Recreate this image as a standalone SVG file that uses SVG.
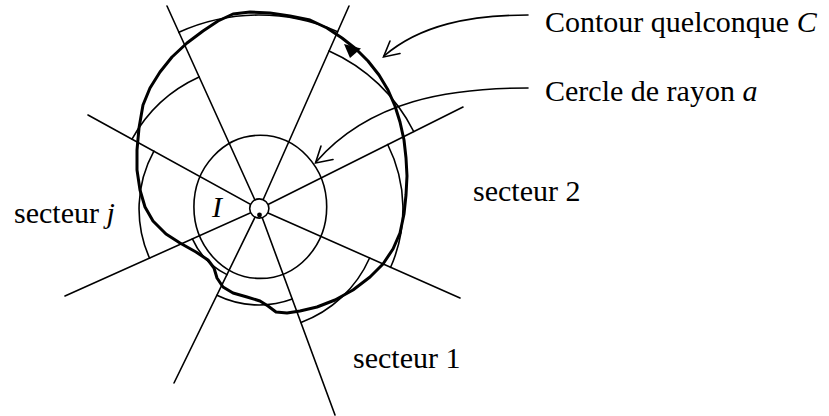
<svg xmlns="http://www.w3.org/2000/svg" width="829" height="416" viewBox="0 0 829 416">
<style>
.thin{fill:none;stroke:#000;stroke-width:1.6;stroke-linecap:round}
.thick{fill:none;stroke:#000;stroke-width:3;stroke-linejoin:round}
text{font-family:"Liberation Serif","Times New Roman",serif;font-size:30px;fill:#000}
.it{font-style:italic}
</style>
<rect width="829" height="416" fill="#fff"/>
<g id="rays">
<line class="thin" x1="259" y1="209" x2="167" y2="6"/>
<line class="thin" x1="259" y1="209" x2="349" y2="6"/>
<line class="thin" x1="259" y1="209" x2="463" y2="107"/>
<line class="thin" x1="259" y1="209" x2="460" y2="298"/>
<line class="thin" x1="259" y1="209" x2="335" y2="415"/>
<line class="thin" x1="259" y1="209" x2="174" y2="383"/>
<line class="thin" x1="259" y1="209" x2="65" y2="296"/>
<line class="thin" x1="259" y1="209" x2="88" y2="115"/>
</g>
<g id="sector-arcs">
<path class="thin" d="M178.9,32.3 A194,194 0 0 1 337.6,31.7"/>
<path class="thin" d="M329.1,50.9 A173,173 0 0 1 413.7,131.5"/>
<path class="thin" d="M387.7,144.5 A144,144 0 0 1 390.6,267.3"/>
<path class="thin" d="M369.6,258 A121,121 0 0 1 301,322.5"/>
<path class="thin" d="M292.3,299 A96,96 0 0 1 216.9,295.3"/>
<path class="thin" d="M227,274.6 A73,73 0 0 1 192.4,238.9"/>
<path class="thin" d="M149.6,258.2 A120,120 0 0 1 153.9,151.2"/>
<path class="thin" d="M132,139.1 A145,145 0 0 1 199.1,76.9"/>
</g>
<g id="circle-a">
<ellipse class="thin" cx="260.3" cy="206.8" rx="66.4" ry="71.6"/>
</g>
<g id="contour-C">
<path class="thick" d="M250,12 L270,13 L290,16 L310,20 L327,28 L342,38 L356,49 L368,61 L379,75 L388,90 L395,106 L400,122 L404,140 L406,158 L407,176 L406,195 L404,214 L400,233 L393,249 L383,264 L370,277 L353,290 L335,300 L317,307 L300,311 L287,313 L276,312 L268,306 L260,301 L247,297 L233,293 L223,287 L217,278 L214,268 L208,260 L196,252 L180,243 L166,234 L153,221 L145,207 L140,190 L137,170 L137,150 L139,128 L143,105 L150,88 L160,72 L172,57 L187,43 L203,31 L218,21 L233,14 Z"/>
<polygon points="344,44 350,58 361,48.5" fill="#000"/>
</g>
<g id="point-I">
<circle cx="259.3" cy="208.5" r="9.6" fill="#fff" stroke="#000" stroke-width="1.6"/>
<circle cx="259.5" cy="215" r="2.4" fill="#000"/>
<text class="it" x="212" y="217">I</text>
</g>
<g id="connectors">
<path class="thin" d="M528,15 C470,15 420,25 384,56"/>
<path class="thin" d="M400,53.5 L383.5,57 L390,41"/>
<path class="thin" d="M528,88 C450,88 370,100 316,162"/>
<path class="thin" d="M333,159.5 L315.5,163 L321,146"/>
</g>
<g id="labels">
<text x="545" y="32">Contour quelconque <tspan class="it">C</tspan></text>
<text x="545" y="101">Cercle de rayon <tspan class="it">a</tspan></text>
<text x="473" y="201">secteur 2</text>
<text x="14" y="223">secteur <tspan class="it">j</tspan></text>
<text x="353" y="368">secteur 1</text>
</g>
</svg>
